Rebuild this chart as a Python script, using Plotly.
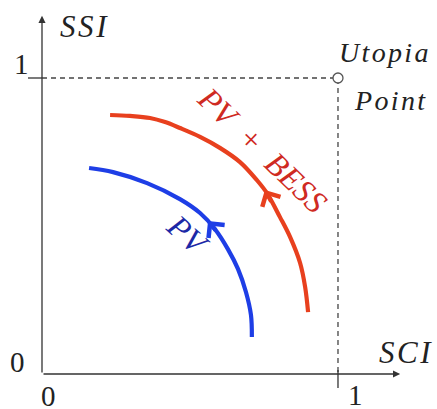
import plotly.graph_objects as go

# ---- data (axis units: SCI on x, SSI on y) ----
pv_sci = [0.159, 0.240, 0.355, 0.466, 0.534, 0.584, 0.628, 0.662, 0.689, 0.706, 0.709]
pv_ssi = [0.696, 0.682, 0.645, 0.591, 0.544, 0.490, 0.422, 0.355, 0.277, 0.199, 0.125]

bess_sci = [0.230, 0.297, 0.365, 0.416, 0.466, 0.534, 0.601, 0.669, 0.726, 0.760, 0.804, 0.838, 0.872, 0.889, 0.899]
bess_ssi = [0.875, 0.872, 0.865, 0.851, 0.831, 0.801, 0.764, 0.716, 0.655, 0.611, 0.530, 0.463, 0.375, 0.294, 0.209]

# direction arrows (head, tail) on each curve
pv_arrow_head = (0.561, 0.517)
pv_arrow_tail = (0.591, 0.480)
bess_arrow_head = (0.753, 0.622)
bess_arrow_tail = (0.777, 0.578)

utopia_sci = [1]
utopia_ssi = [1]

x_ticks = [0, 1]
y_ticks = [0, 1]
x_tick_labels = ["0", "1"]
y_tick_labels = ["0", "1"]

# ---- styles ----
RED = "#e8401e"
RED_TXT = "#cf2a22"
BLUE = "#1e3ee6"
BLUE_TXT = "#1c28a6"
AX = "#333333"
FONT = "Liberation Serif"
W, H = 437, 409
X_RANGE = [-0.1419, 1.3345]
Y_RANGE = [-0.1182, 1.2635]
AXIS_END = 1.21
HS = "\u200a"  # hair space for slightly wider letter spacing

fig = go.Figure()

# dashed guide to utopia point
fig.add_trace(go.Scatter(
    x=[x_ticks[0], utopia_sci[0], utopia_sci[0]],
    y=[utopia_ssi[0], utopia_ssi[0], y_ticks[0]],
    mode="lines", line=dict(color="#444444", width=1.3, dash="5px,4px"),
    hoverinfo="skip", showlegend=False))

fig.add_trace(go.Scatter(
    x=pv_sci, y=pv_ssi, mode="lines",
    line=dict(color=BLUE, width=4.2, shape="spline", smoothing=1.0),
    showlegend=False))
fig.add_trace(go.Scatter(
    x=bess_sci, y=bess_ssi, mode="lines",
    line=dict(color=RED, width=4.2, shape="spline", smoothing=1.0),
    showlegend=False))

fig.add_trace(go.Scatter(
    x=utopia_sci, y=utopia_ssi, mode="markers",
    marker=dict(symbol="circle", size=10, color="white",
                line=dict(color="#555555", width=1.3)),
    showlegend=False))

annotations = []
# axes with arrows
annotations.append(dict(x=AXIS_END, y=0, ax=0, ay=0, xref="x", yref="y",
                        axref="x", ayref="y", text="", showarrow=True,
                        arrowhead=2, arrowsize=1.1, arrowwidth=1.3, arrowcolor=AX))
annotations.append(dict(x=0, y=AXIS_END, ax=0, ay=0, xref="x", yref="y",
                        axref="x", ayref="y", text="", showarrow=True,
                        arrowhead=2, arrowsize=1.1, arrowwidth=1.3, arrowcolor=AX))

# curve direction arrows
for head, tail, col in [(pv_arrow_head, pv_arrow_tail, BLUE),
                        (bess_arrow_head, bess_arrow_tail, RED)]:
    annotations.append(dict(x=head[0], y=head[1], ax=tail[0], ay=tail[1],
                            xref="x", yref="y", axref="x", ayref="y",
                            text="", showarrow=True, arrowhead=4,
                            arrowsize=0.95, arrowwidth=4.2, arrowcolor=col))

tick_font = dict(family=FONT, size=29, color="#222222")
# tick labels
annotations.append(dict(x=x_ticks[0], y=0, text=x_tick_labels[0], showarrow=False,
                        xshift=6, yshift=-22, font=tick_font))
annotations.append(dict(x=x_ticks[1], y=0, text=x_tick_labels[1], showarrow=False,
                        xshift=18, yshift=-21, font=tick_font))
annotations.append(dict(x=0, y=y_ticks[0], text=y_tick_labels[0], showarrow=False,
                        xshift=-25, yshift=12, font=tick_font))
annotations.append(dict(x=0, y=y_ticks[1], text=y_tick_labels[1], showarrow=False,
                        xshift=-21, yshift=14, font=tick_font))

lab_font = dict(family=FONT, size=31, color="#222222")
annotations.append(dict(x=0, y=AXIS_END, text="<i>S" + HS + "S" + HS + "I</i>", showarrow=False,
                        xshift=42, yshift=-11, font=lab_font))
annotations.append(dict(x=AXIS_END, y=0, text="<i>S" + HS + "C" + HS + "I</i>", showarrow=False,
                        xshift=5, yshift=22, font=lab_font))
ut_font = dict(family=FONT, size=28, color="#222222")
annotations.append(dict(x=utopia_sci[0], y=utopia_ssi[0],
                        text="<i>" + HS.join("Utopia") + "</i>",
                        showarrow=False, xshift=46, yshift=26, font=ut_font))
annotations.append(dict(x=utopia_sci[0], y=utopia_ssi[0],
                        text="<i>" + HS.join("Point") + "</i>",
                        showarrow=False, xshift=52, yshift=-22, font=ut_font))

annotations.append(dict(x=0.745, y=0.757, text="<i>PV\u2002+\u2002BESS</i>", showarrow=False,
                        textangle=44, font=dict(family=FONT, size=32, color=RED_TXT)))
annotations.append(dict(x=0.493, y=0.468, text="<i>PV</i>", showarrow=False,
                        textangle=42, font=dict(family=FONT, size=32, color=BLUE_TXT)))

shapes = [
    # y tick at 1 (left of axis)
    dict(type="line", xref="x", yref="y", xsizemode="pixel", xanchor=0,
         x0=-14, x1=0, y0=y_ticks[1], y1=y_ticks[1], line=dict(color=AX, width=1.3)),
    # x tick at 1 (crossing axis)
    dict(type="line", xref="x", yref="y", ysizemode="pixel", yanchor=0,
         y0=4, y1=-14, x0=x_ticks[1], x1=x_ticks[1], line=dict(color=AX, width=1.3)),
]

fig.update_layout(
    width=W, height=H, autosize=False,
    margin=dict(l=0, r=0, t=0, b=0),
    paper_bgcolor="white", plot_bgcolor="white",
    xaxis=dict(range=X_RANGE, visible=False, fixedrange=True),
    yaxis=dict(range=Y_RANGE, visible=False, fixedrange=True),
    annotations=annotations, shapes=shapes, showlegend=False,
)

fig.write_html("out.html", config={"displayModeBar": False},
               post_script="document.body.style.margin='0';document.body.style.padding='0';document.body.style.overflow='hidden';")
